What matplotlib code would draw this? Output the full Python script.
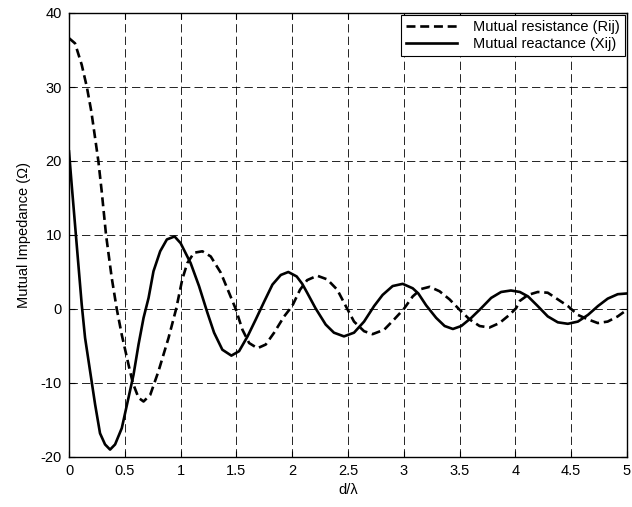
import matplotlib
matplotlib.use("Agg")
import matplotlib.pyplot as plt
from matplotlib.ticker import FormatStrFormatter

# Mutual resistance (dashed)
r_d = [0.0, 0.054, 0.114, 0.16, 0.2, 0.234, 0.263, 0.293, 0.332, 0.383, 0.428, 0.473,
       0.533, 0.572, 0.623, 0.668, 0.728, 0.802, 0.892, 0.96, 1.015, 1.06, 1.12, 1.195,
       1.27, 1.36, 1.434, 1.494, 1.554, 1.614, 1.689, 1.763, 1.838, 1.928, 2.0, 2.07,
       2.134, 2.224, 2.314, 2.404, 2.48, 2.554, 2.644, 2.72, 2.824, 2.914, 3.0, 3.08,
       3.155, 3.232, 3.32, 3.41, 3.5, 3.589, 3.679, 3.768, 3.857, 3.946, 4.006, 4.04,
       4.113, 4.2, 4.29, 4.38, 4.47, 4.56, 4.65, 4.738, 4.827, 4.917, 5.0]
r_val = [36.6, 35.9, 33.0, 30.0, 26.7, 23.1, 20.0, 15.9, 10.0, 4.2, 0.0, -3.5,
         -7.5, -10.0, -12.0, -12.5, -11.6, -8.4, -3.9, 0.0, 4.0, 6.2, 7.6, 7.8,
         7.1, 4.9, 2.2, 0.0, -2.8, -4.6, -5.3, -4.8, -3.2, -1.0, 0.4, 2.6,
         3.9, 4.5, 4.0, 2.6, 0.4, -1.7, -3.0, -3.4, -2.8, -1.4, 0.0, 1.7,
         2.7, 3.0, 2.4, 1.3, -0.1, -1.4, -2.3, -2.5, -1.9, -0.8, 0.1, 1.1,
         1.9, 2.3, 2.2, 1.3, 0.4, -0.8, -1.4, -1.9, -1.7, -1.0, -0.1]

# Mutual reactance (solid)
x_d = [0.0, 0.024, 0.054, 0.084, 0.114, 0.144, 0.189, 0.234, 0.278, 0.323, 0.368, 0.413,
       0.473, 0.533, 0.578, 0.623, 0.668, 0.713, 0.757, 0.817, 0.877, 0.946, 1.0, 1.09,
       1.165, 1.24, 1.3, 1.374, 1.455, 1.524, 1.6, 1.674, 1.749, 1.823, 1.898, 1.965,
       2.04, 2.09, 2.134, 2.209, 2.3, 2.374, 2.464, 2.554, 2.644, 2.734, 2.81, 2.9,
       2.99, 3.08, 3.13, 3.2, 3.29, 3.366, 3.44, 3.515, 3.604, 3.693, 3.783, 3.872,
       3.96, 4.04, 4.113, 4.2, 4.29, 4.38, 4.47, 4.56, 4.65, 4.74, 4.827, 4.917, 5.0]
x_val = [21.3, 16.8, 11.4, 6.0, 0.6, -3.9, -8.4, -12.9, -16.8, -18.3, -19.0, -18.3,
         -16.1, -12.0, -8.9, -4.8, -1.2, 1.5, 5.1, 7.8, 9.4, 9.8, 8.9, 6.2,
         3.1, -0.5, -3.2, -5.5, -6.3, -5.7, -3.7, -1.4, 1.0, 3.3, 4.6, 5.0,
         4.4, 3.4, 2.2, 0.1, -2.1, -3.2, -3.7, -3.2, -1.7, 0.4, 1.9, 3.1,
         3.4, 2.8, 2.1, 0.5, -1.2, -2.3, -2.7, -2.3, -1.2, 0.1, 1.5, 2.3,
         2.5, 2.3, 1.7, 0.4, -1.0, -1.8, -2.0, -1.7, -0.8, 0.4, 1.4, 2.0, 2.1]

x_ticks = [0, 0.5, 1, 1.5, 2, 2.5, 3, 3.5, 4, 4.5, 5]
y_ticks = [-20, -10, 0, 10, 20, 30, 40]

plt.rcParams['font.family'] = ['Liberation Sans', 'DejaVu Sans']
plt.rcParams['font.size'] = 10.5

fig = plt.figure(figsize=(6.32, 5.07), dpi=100)
ax = fig.add_axes([69/632, 1 - 457/507, (627 - 69)/632, (457 - 13)/507])

ax.plot(r_d, r_val, color='black', linestyle=(0, (3.4, 1.8)), linewidth=1.9,
        dash_joinstyle='round', label='Mutual resistance (Rij)')
ax.plot(x_d, x_val, color='black', linestyle='-', linewidth=1.9,
        solid_joinstyle='round', label='Mutual reactance (Xij)')

ax.set_xlim(0, 5)
ax.set_ylim(-20, 40)
ax.set_xticks(x_ticks)
ax.set_yticks(y_ticks)
ax.xaxis.set_major_formatter(FormatStrFormatter('%g'))
ax.yaxis.set_major_formatter(FormatStrFormatter('%g'))
ax.grid(True, color='black', linestyle=(0, (10, 5)), linewidth=0.6)
ax.tick_params(direction='in', length=4, top=True, right=True, labelsize=10.5, pad=5)
for s in ax.spines.values():
    s.set_linewidth(1.0)

ax.set_xlabel('d/λ', fontsize=10.5, labelpad=4)
ax.set_ylabel('Mutual Impedance (Ω)', fontsize=10.5, labelpad=7)

leg = ax.legend(loc='upper right', fancybox=False, framealpha=1, edgecolor='black',
                handlelength=3.5, handletextpad=1.1, borderaxespad=0.15,
                fontsize=10.5, borderpad=0.35, labelspacing=0.2)
leg.get_frame().set_linewidth(0.8)

fig.savefig('out.png', dpi=100)
